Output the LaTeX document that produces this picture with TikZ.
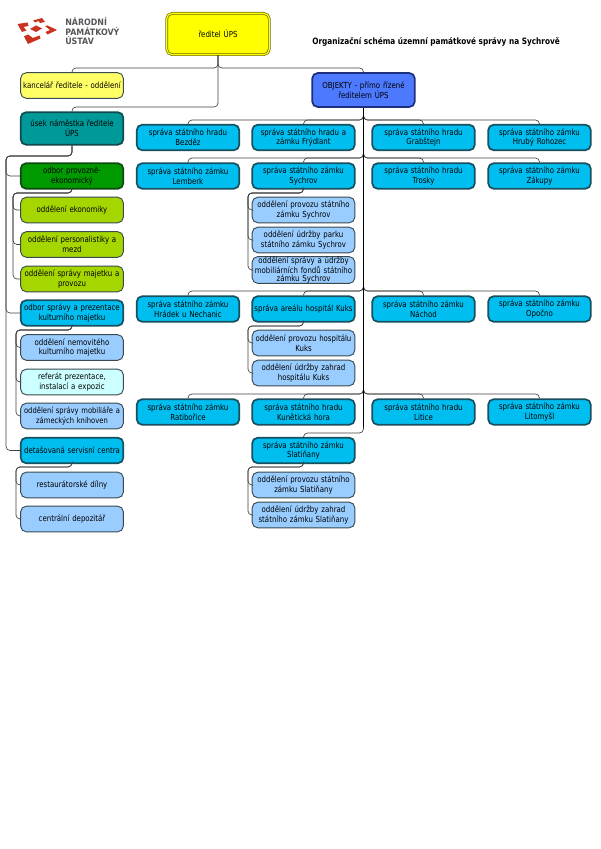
\documentclass[tikz,border=0pt]{standalone}
\usepackage{fontspec}
\setmainfont{DejaVu Sans}[FakeStretch=0.84]
\newfontfamily\logofont{DejaVu Sans}[FakeStretch=0.9]
\definecolor{edgeD}{HTML}{3A4A50}
\definecolor{cyanF}{HTML}{00BFF0}
\definecolor{cyanE}{HTML}{17505F}
\definecolor{blueF}{HTML}{99CCFF}
\definecolor{paleF}{HTML}{CCFFFF}
\definecolor{limeF}{HTML}{A6D600}
\definecolor{greenF}{HTML}{009900}
\definecolor{greenE}{HTML}{0F4A12}
\definecolor{tealF}{HTML}{009999}
\definecolor{tealE}{HTML}{0E4A50}
\definecolor{objF}{HTML}{4D79FF}
\definecolor{objE}{HTML}{1E2F80}
\definecolor{softY}{HTML}{FFFF66}
\definecolor{fullY}{RGB}{255,255,0}
\definecolor{topE}{HTML}{6E6E10}
\definecolor{logoR}{HTML}{C8321E}
\definecolor{logoT}{HTML}{55575A}
\definecolor{connC}{HTML}{404040}
\tikzset{
  x=0.75pt,y=-0.75pt,
  boxbase/.style={rectangle,rounded corners=4.2pt,align=center,inner sep=0pt,
    text width=76pt,minimum width=77pt,minimum height=19.2pt,
    font=\fontsize{6.25}{7.2}\selectfont,text=black},
  thinbox/.style={boxbase,draw=edgeD,line width=0.7pt},
  thickbox/.style={boxbase,line width=1.3pt},
  cyanbox/.style={thickbox,draw=cyanE,fill=cyanF},
  bluebox/.style={thinbox,fill=blueF},
  palebox/.style={thinbox,fill=paleF},
  limebox/.style={thinbox,fill=limeF},
  softbox/.style={thinbox,fill=softY},
  greenbox/.style={thickbox,draw=greenE,fill=greenF},
  tealbox/.style={thickbox,draw=tealE,fill=tealF,minimum height=24.5pt},
  objbox/.style={thickbox,draw=objE,fill=objF,minimum height=25.5pt},
  topbox/.style={boxbase,draw=topE,fill=fullY,double=fullY,double distance=0.9pt,line width=0.55pt,minimum height=31pt},
  conn/.style={draw=connC,line width=0.5pt,rounded corners=3pt},
  spine/.style={draw=black,line width=0.8pt},
  logopiece/.style={fill=logoR,draw=none},
  titletext/.style={font=\fontsize{6.55}{8}\selectfont\bfseries,anchor=west,inner sep=0pt,text=black},
  logotext/.style={font=\fontsize{6.6}{7.2}\selectfont\logofont\bfseries,text=logoT,align=left,anchor=north west,inner sep=0pt},
}
\begin{document}
\begin{tikzpicture}
\useasboundingbox (0,0) rectangle (600,849);
% logo
\fill[logopiece] (17.5,24) -- (27.5,22.5) -- (28.5,26) -- (23.5,27) -- (26.5,30.5) -- (22,32) -- cycle;
\fill[logopiece] (33,20.5) -- (42,18) -- (45,22) -- (40,23) -- (38.5,21) -- (35,22.5) -- cycle;
\fill[logopiece] (30,29) -- (36,25.5) -- (42,28.5) -- (36,32) -- cycle;
\fill[logopiece] (45,26) -- (47.5,25.5) -- (57,30) -- (47.5,34.5) -- (45.5,32) -- (50,30) -- cycle;
\fill[logopiece] (24,36.5) -- (28,34.5) -- (33,38) -- (39.5,35.5) -- (40.5,38.5) -- (28,44) -- cycle;
\node[logotext] (logoname) at (65,17) {NÁRODNÍ\\PAMÁTKOVÝ\\ÚSTAV};
\node[titletext] (title) at (312,42) {Organizační schéma územní památkové správy na Sychrově};
% top
\node[topbox] (dir) at (218,34) {ředitel ÚPS};
\node[softbox] (kanc) at (72,85.5) {kancelář ředitele - oddělení};
\node[objbox] (obj) at (363.5,90) {OBJEKTY - přímo řízené\\ředitelem ÚPS};
\node[tealbox] (usek) at (72,128.5) {úsek náměstka ředitele\\ÚPS};
% left column
\node[greenbox] (prov) at (72,176) {odbor provozně-\\ekonomický};
\node[limebox] (ekon) at (72,210) {oddělení ekonomiky};
\node[limebox] (pers) at (72,244.5) {oddělení personalistiky a\\mezd};
\node[limebox] (majt) at (72,279) {oddělení správy majetku a\\provozu};
\node[cyanbox] (prez) at (72,313) {odbor správy a prezentace\\kulturního majetku};
\node[bluebox] (nemo) at (72,347.5) {oddělení nemovitého\\kulturního majetku};
\node[palebox] (refe) at (72,382) {referát prezentace,\\instalací a expozic};
\node[bluebox,font=\fontsize{6.05}{7.2}\selectfont] (mobi) at (72,416) {oddělení správy mobiliáře a\\zámeckých knihoven};
\node[cyanbox] (deta) at (72,450.5) {detašovaná servisní centra};
\node[bluebox] (rest) at (72,485) {restaurátorské dílny};
\node[bluebox] (depo) at (72,519) {centrální depozitář};
% row 1
\node[cyanbox] (r1a) at (188,137.5) {správa státního hradu\\Bezděz};
\node[cyanbox] (r1b) at (303.5,137.5) {správa státního hradu a\\zámku Frýdlant};
\node[cyanbox] (r1c) at (423.5,137.5) {správa státního hradu\\Grabštejn};
\node[cyanbox] (r1d) at (539.5,137.5) {správa státního zámku\\Hrubý Rohozec};
% row 2
\node[cyanbox] (r2a) at (188,176) {správa státního zámku\\Lemberk};
\node[cyanbox] (r2b) at (303.5,176) {správa státního zámku\\Sychrov};
\node[cyanbox] (r2c) at (423.5,176) {správa státního hradu\\Trosky};
\node[cyanbox] (r2d) at (539.5,176) {správa státního zámku\\Zákupy};
\node[bluebox] (sy1) at (303.5,210) {oddělení provozu státního\\zámku Sychrov};
\node[bluebox] (sy2) at (303.5,240) {oddělení údržby parku\\státního zámku Sychrov};
\node[bluebox,font=\fontsize{6.25}{6.2}\selectfont] (sy3) at (303.5,270) {oddělení správy a údržby\\mobiliárních fondů státního\\zámku Sychrov};
% row 3
\node[cyanbox] (r3a) at (188,309) {správa státního zámku\\Hrádek u Nechanic};
\node[cyanbox] (r3b) at (303.5,309) {správa areálu hospitál Kuks};
\node[cyanbox] (r3c) at (423.5,309) {správa státního zámku\\Náchod};
\node[cyanbox] (r3d) at (539.5,309) {správa státního zámku\\Opočno};
\node[bluebox] (ku1) at (303.5,343) {oddělení provozu hospitálu\\Kuks};
\node[bluebox] (ku2) at (303.5,373) {oddělení údržby zahrad\\hospitálu Kuks};
% row 4
\node[cyanbox] (r4a) at (188,412) {správa státního zámku\\Ratibořice};
\node[cyanbox] (r4b) at (303.5,412) {správa státního hradu\\Kunětická hora};
\node[cyanbox] (r4c) at (423.5,412) {správa státního hradu\\Litice};
\node[cyanbox] (r4d) at (539.5,412) {správa státního zámku\\Litomyšl};
\node[cyanbox] (sl0) at (303.5,450.5) {správa státního zámku\\Slatiňany};
\node[bluebox] (sl1) at (303.5,485) {oddělení provozu státního\\zámku Slatiňany};
\node[bluebox] (sl2) at (303.5,515) {oddělení údržby zahrad\\státního zámku Slatiňany};
% connectors from the director
\coordinate (d1) at (218,68);
\draw[conn] (dir.south) -- (d1) -| (kanc.north);
\draw[conn] (dir.south) -- (d1) -| (obj.north);
\draw[conn] (dir.south) -- (218,107) -| (usek.north);
% spine
\coordinate (b1) at (363.5,120);
\coordinate (b2) at (363.5,158);
\coordinate (b3) at (363.5,291);
\coordinate (b4) at (363.5,394);
\coordinate (b5) at (363.5,433);
\foreach \bus/\kid in {b1/r1a,b1/r1b,b1/r1c,b1/r1d,b2/r2a,b2/r2b,b2/r2c,b2/r2d,b3/r3a,b3/r3b,b3/r3c,b3/r3d,b4/r4a,b4/r4b,b4/r4c,b4/r4d}
  \draw[conn] (obj.south) -- (\bus) -| (\kid.north);
\draw[conn] (obj.south) -- (b5) -| (sl0.north);
\draw[spine] (obj.south) -- (363.5,427);
% left trunk
\coordinate (t0) at (6,156);
\foreach \kid in {prov,prez,deta}
  \draw[conn] (usek.south) |- (t0) |- (\kid.west);
\coordinate (t1) at (13,193);
\foreach \kid in {ekon,pers,majt}
  \draw[conn] (prov.south) |- (t1) |- (\kid.west);
\coordinate (t2) at (16,330);
\foreach \kid in {nemo,refe,mobi}
  \draw[conn] (prez.south) |- (t2) |- (\kid.west);
\coordinate (t3) at (16,467);
\foreach \kid in {rest,depo}
  \draw[conn] (deta.south) |- (t3) |- (\kid.west);
% sub-trunks
\coordinate (t4) at (248,193);
\foreach \kid in {sy1,sy2,sy3}
  \draw[conn] (r2b.south) |- (t4) |- (\kid.west);
\coordinate (t5) at (248,326);
\foreach \kid in {ku1,ku2}
  \draw[conn] (r3b.south) |- (t5) |- (\kid.west);
\coordinate (t6) at (248,467);
\foreach \kid in {sl1,sl2}
  \draw[conn] (sl0.south) |- (t6) |- (\kid.west);
\end{tikzpicture}
\end{document}
